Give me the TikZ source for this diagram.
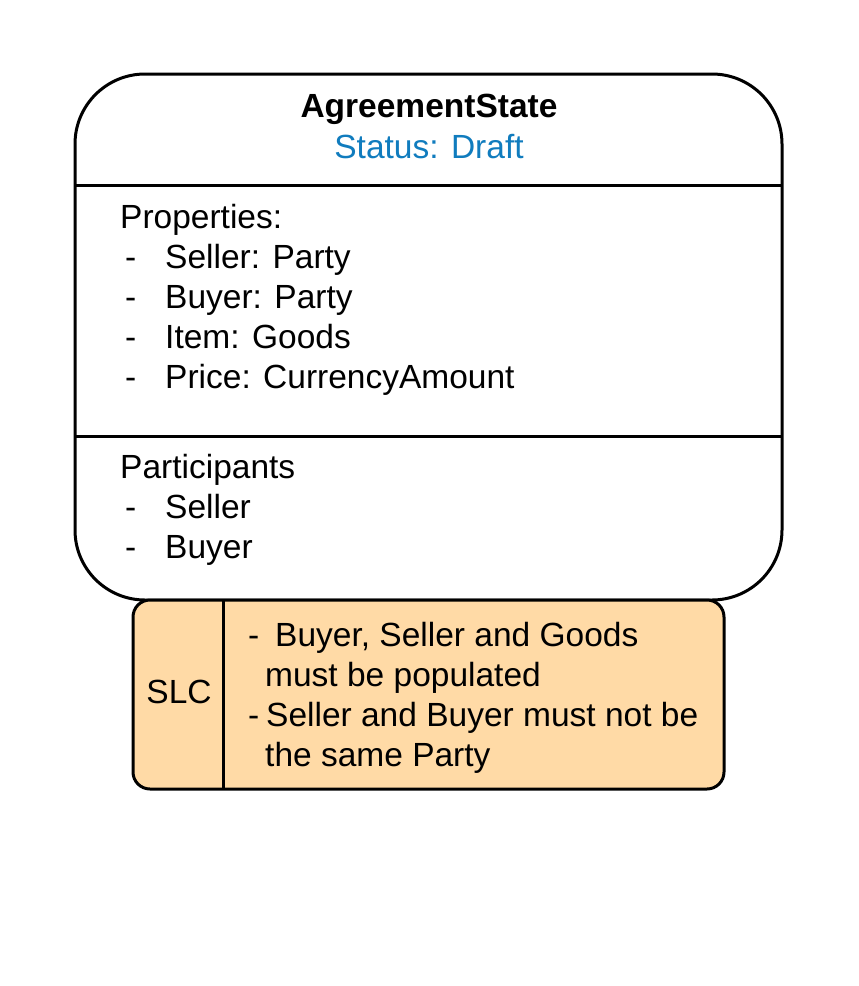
\documentclass[tikz,border=0pt]{standalone}
\usepackage{fontspec}
\setmainfont{Liberation Sans}
\definecolor{statusblue}{RGB}{16,124,190}
\definecolor{slcfill}{RGB}{255,218,166}
\begin{document}
\begin{tikzpicture}[x=1pt,y=-1pt,
  boxline/.style={line width=3pt},
  txt/.style={anchor=base west,inner sep=0pt,font=\fontsize{33.5}{40}\selectfont},
  ctxt/.style={anchor=base,inner sep=0pt,font=\fontsize{33.5}{40}\selectfont}]
\useasboundingbox (0,0) rectangle (859,986);
% main state box
\node (main) [draw,boxline,rounded corners=70pt,minimum width=707pt,minimum height=526pt,inner sep=0pt,fill=white] at (428.5,337) {};
\coordinate (d1l) at (75,185);
\coordinate (d1r) at (782,185);
\coordinate (d2l) at (75,436);
\coordinate (d2r) at (782,436);
\draw[boxline] (d1l) -- (d1r);
\draw[boxline] (d2l) -- (d2r);
% header
\node (title) [ctxt,font=\fontsize{33.5}{40}\selectfont\bfseries] at (429,117) {AgreementState};
\node (status) [ctxt,text=statusblue] at (429,158) {Status: Draft};
% properties
\node (props) [txt] at (120,228) {Properties:};
\node (pd1) [txt] at (125,268) {-};
\node (p1) [txt] at (165,268) {Seller: Party};
\node (pd2) [txt] at (125,308) {-};
\node (p2) [txt] at (165,308) {Buyer: Party};
\node (pd3) [txt] at (125,348) {-};
\node (p3) [txt] at (165,348) {Item: Goods};
\node (pd4) [txt] at (125,388) {-};
\node (p4) [txt] at (165,388) {Price: CurrencyAmount};
% participants
\node (parts) [txt] at (120,478) {Participants};
\node (qd1) [txt] at (125,518) {-};
\node (q1) [txt] at (165,518) {Seller};
\node (qd2) [txt] at (125,558) {-};
\node (q2) [txt] at (165,558) {Buyer};
% SLC box
\node (slc) [draw,boxline,fill=slcfill,rounded corners=17pt,minimum width=591pt,minimum height=189pt,inner sep=0pt] at (428.5,694.5) {};
\coordinate (sdt) at (223,600);
\coordinate (sdb) at (223,789);
\draw[boxline] (sdt) -- (sdb);
\node (slclabel) [ctxt] at (179,703) {SLC};
\node (sd1) [txt] at (248,646) {-};
\node (s1) [txt] at (275,646) {Buyer, Seller and Goods};
\node (s2) [txt] at (265,686) {must be populated};
\node (sd2) [txt] at (248,726) {-};
\node (s3) [txt] at (266,726) {Seller and Buyer must not be};
\node (s4) [txt] at (265,766) {the same Party};
\end{tikzpicture}
\end{document}
